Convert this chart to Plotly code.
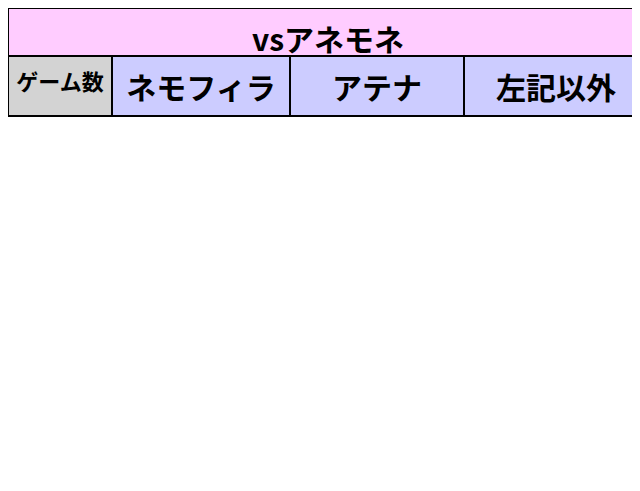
import plotly.graph_objects as go

title = "vsアネモネ"
headers = ["ゲーム数", "ネモフィラ", "アテナ", "左記以外"]
games = ["3G", "5G", "7G", "10G", "15G", "20G", "無限"]
nemophila = ["85.0", "3.0", "1.0", "0.5", "0.2", "0.2", "10.0"]
athena = [None, "31.7", "30.0", "3.0", "1.0", "1.0", "33.3"]
others = ["92.0", "3.0", "1.0", "0.5", "0.2", "0.2", "3.0"]


def pct(values):
    out = []
    for v in values:
        if v is None:
            out.append("<b>───</b> ")
        else:
            out.append(f"<b>{v}%</b>")
    return out


W, H = 640, 491
font = "Noto Sans CJK JP"

fig = go.Figure()

# title row as its own one-row table
fig.add_trace(go.Table(
    domain=dict(x=[0, 1], y=[1 - 48 / H, 1]),
    header=dict(
        values=[f"<b>{title}</b>"],
        fill_color="#ffccff",
        line=dict(color="black", width=2),
        align="center",
        height=48,
        font=dict(family=font, size=30, color="black"),
    ),
    cells=dict(values=[[]], height=0),
))

fig.add_trace(go.Table(
    domain=dict(x=[0, 1], y=[0, 1 - 48 / H]),
    columnwidth=[104, 178, 174, 184],
    header=dict(
        values=[f"<b>{h}</b>" for h in headers],
        fill_color=["#d3d3d3", "#ccccff", "#ccccff", "#ccccff"],
        line=dict(color="black", width=2),
        align="center",
        height=48,
        font=dict(family=font, size=[22, 30, 30, 30], color="black"),
    ),
    cells=dict(
        values=[[f"<b>{g}</b>" for g in games], pct(nemophila), pct(athena), pct(others)],
        fill_color=["#ffff99", "white", "white", "white"],
        line=dict(color="black", width=2),
        align=["center", "right", "right", "right"],
        height=56,
        font=dict(family=font, size=28, color="black"),
    ),
))

fig.update_layout(width=W, height=H, margin=dict(l=0, r=0, t=0, b=0),
                  paper_bgcolor="white")
fig.write_html("out.html")
